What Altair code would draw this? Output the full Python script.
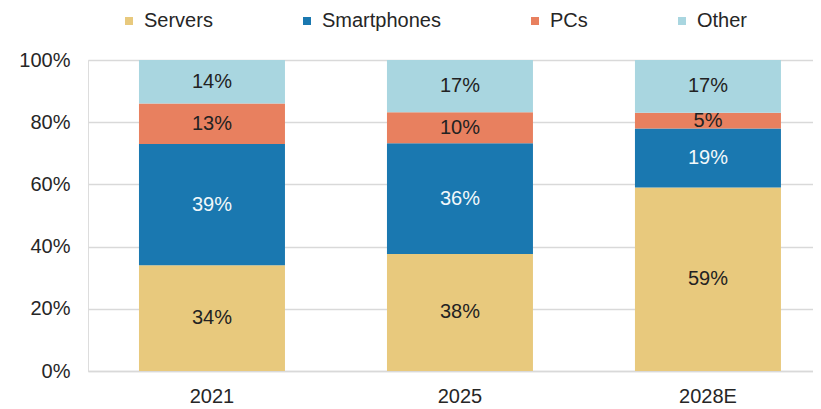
import altair as alt
import pandas as pd

years = ["2021", "2025", "2028E"]
categories = ["Servers", "Smartphones", "PCs", "Other"]
colors = ["#E8C97D", "#1A78B0", "#E8805F", "#A9D6E0"]
servers = [34, 38, 59]
smartphones = [39, 36, 19]
pcs = [13, 10, 5]
other = [14, 17, 17]

series = [servers, smartphones, pcs, other]
rows = []
for ci, (cat, vals) in enumerate(zip(categories, series)):
    for yi, yr in enumerate(years):
        rows.append({"year": yr, "category": cat, "value": vals[yi], "order": ci})
df = pd.DataFrame(rows)

FONT = "Liberation Sans"
FS = 20

base = alt.Chart(df).transform_joinaggregate(
    total="sum(value)", groupby=["year"]
).transform_calculate(
    pct="datum.value / datum.total",
    label="datum.value + '%'"
).transform_stack(
    stack="pct", groupby=["year"], as_=["y0", "y1"],
    sort=[alt.SortField("order", order="ascending")]
).transform_calculate(
    mid="(datum.y0 + datum.y1) / 2"
)

xenc = alt.X("year:N", sort=years, title=None,
             scale=alt.Scale(paddingInner=0.4113, paddingOuter=0.1674, align=0.614),
             axis=alt.Axis(labelAngle=0, ticks=False, domain=True, domainColor="#d9d9d9",
                           domainWidth=1.5, labelFontSize=FS, labelColor="#262626",
                           labelFont=FONT, labelPadding=15, grid=False))

bars = base.mark_bar().encode(
    x=xenc,
    y=alt.Y("y0:Q", title=None,
            scale=alt.Scale(domain=[0, 1], nice=False),
            axis=alt.Axis(format="%", values=[0, 0.2, 0.4, 0.6, 0.8, 1.0],
                          domain=False, ticks=False, grid=True, gridColor="#d9d9d9",
                          gridWidth=1.5, labelFontSize=FS, labelColor="#262626",
                          labelFont=FONT, labelPadding=18)),
    y2="y1:Q",
    color=alt.Color("category:N", title=None,
                    scale=alt.Scale(domain=categories, range=colors),
                    legend=alt.Legend(orient="none", legendX=31, legendY=-49,
                                      direction="horizontal", columns=4,
                                      columnPadding=84, symbolType="square",
                                      symbolSize=64, symbolStrokeWidth=0,
                                      labelFontSize=FS, labelFont=FONT,
                                      labelColor="#262626", labelOffset=5,
                                      padding=0)),
)

texts = base.mark_text(fontSize=FS, font=FONT).encode(
    x=alt.X("year:N", sort=years),
    y=alt.Y("mid:Q"),
    text="label:N",
    color=alt.condition(alt.datum.category == "Smartphones",
                        alt.value("#F2F8FB"), alt.value("#222222")),
)

chart = alt.layer(bars, texts).properties(
    width=725, height=311,
    autosize=alt.AutoSizeParams(type="none"),
    padding={"left": 80, "top": 52, "right": 0, "bottom": 38},
).configure_view(stroke=None).configure(background="white")

chart.save("out.html", embed_options={"renderer": "svg", "actions": False})
